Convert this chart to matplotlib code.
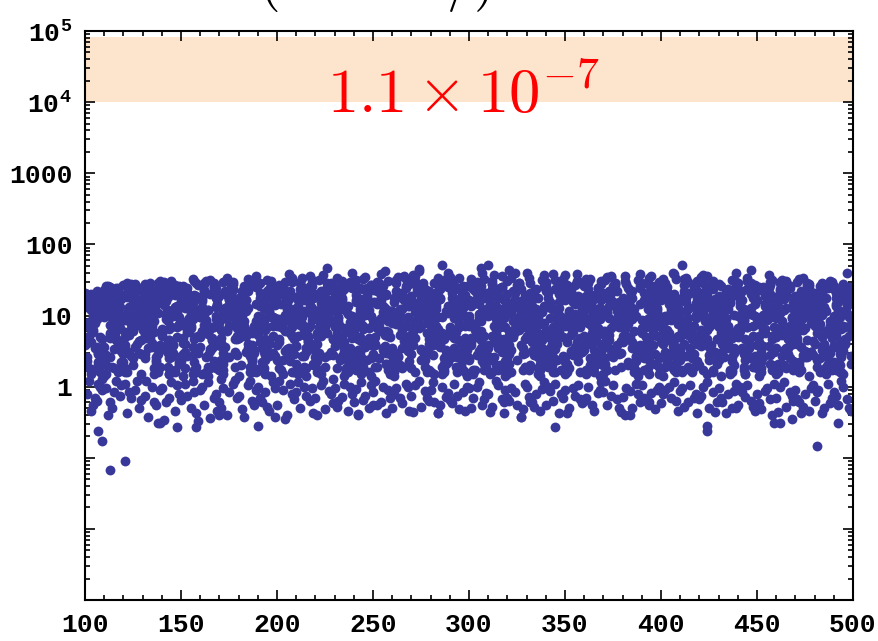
import numpy as np
import matplotlib
matplotlib.use("Agg")
import matplotlib.pyplot as plt
from matplotlib.ticker import FixedLocator, FixedFormatter, MultipleLocator, LogLocator, NullFormatter

plt.rcParams['mathtext.fontset'] = 'cm'

# dense core of the cloud, one line per 10-wide bin in x
x_core = [
    100,103,106,109,101,104,107,102,105,108, 105,101,108,102,109,104,100,107,103,106, 102,107,104,100,108,105,101,109,106,103,
    119,116,113,110,117,114,111,118,115,112, 114,110,117,113,119,111,116,112,118,115, 110,113,116,119,111,114,117,112,115,118,
    125,121,128,122,129,124,120,127,123,126, 122,127,124,120,128,125,121,129,126,123, 124,120,127,123,129,121,126,122,128,125,
    130,133,136,139,131,134,137,132,135,138, 139,136,133,130,137,134,131,138,135,132, 135,131,138,132,139,134,130,137,133,136,
    144,140,147,143,149,141,146,142,148,145, 142,147,144,140,148,145,141,149,146,143, 140,143,146,149,141,144,147,142,145,148,
    150,153,156,159,151,154,157,152,155,158, 155,151,158,152,159,154,150,157,153,156, 159,156,153,150,157,154,151,158,155,152,
    162,167,164,160,168,165,161,169,166,163, 164,160,167,163,169,161,166,162,168,165, 160,163,166,169,161,164,167,162,165,168,
    175,171,178,172,179,174,170,177,173,176, 170,173,176,179,171,174,177,172,175,178, 179,176,173,170,177,174,171,178,175,172,
    184,180,187,183,189,181,186,182,188,185, 182,187,184,180,188,185,181,189,186,183, 180,183,186,189,181,184,187,182,185,188,
    190,193,196,199,191,194,197,192,195,198, 195,191,198,192,199,194,190,197,193,196, 199,196,193,190,197,194,191,198,195,192,
    202,207,204,200,208,205,201,209,206,203, 204,200,207,203,209,201,206,202,208,205, 200,203,206,209,201,204,207,202,205,208,
    215,211,218,212,219,214,210,217,213,216, 210,213,216,219,211,214,217,212,215,218, 219,216,213,210,217,214,211,218,215,212,
    224,220,227,223,229,221,226,222,228,225, 222,227,224,220,228,225,221,229,226,223, 220,223,226,229,221,224,227,222,225,228,
    230,233,236,239,231,234,237,232,235,238, 235,231,238,232,239,234,230,237,233,236, 239,236,233,230,237,234,231,238,235,232,
    242,247,244,240,248,245,241,249,246,243, 244,240,247,243,249,241,246,242,248,245, 240,243,246,249,241,244,247,242,245,248,
    255,251,258,252,259,254,250,257,253,256, 250,253,256,259,251,254,257,252,255,258, 259,256,253,250,257,254,251,258,255,252,
    264,260,267,263,269,261,266,262,268,265, 262,267,264,260,268,265,261,269,266,263, 260,263,266,269,261,264,267,262,265,268,
    270,273,276,279,271,274,277,272,275,278, 275,271,278,272,279,274,270,277,273,276, 279,276,273,270,277,274,271,278,275,272,
    282,287,284,280,288,285,281,289,286,283, 284,280,287,283,289,281,286,282,288,285, 280,283,286,289,281,284,287,282,285,288,
    295,291,298,292,299,294,290,297,293,296, 290,293,296,299,291,294,297,292,295,298, 299,296,293,290,297,294,291,298,295,292,
    304,300,307,303,309,301,306,302,308,305, 302,307,304,300,308,305,301,309,306,303, 300,303,306,309,301,304,307,302,305,308,
    310,313,316,319,311,314,317,312,315,318, 315,311,318,312,319,314,310,317,313,316, 319,316,313,310,317,314,311,318,315,312,
    322,327,324,320,328,325,321,329,326,323, 324,320,327,323,329,321,326,322,328,325, 320,323,326,329,321,324,327,322,325,328,
    335,331,338,332,339,334,330,337,333,336, 330,333,336,339,331,334,337,332,335,338, 339,336,333,330,337,334,331,338,335,332,
    344,340,347,343,349,341,346,342,348,345, 342,347,344,340,348,345,341,349,346,343, 340,343,346,349,341,344,347,342,345,348,
    350,353,356,359,351,354,357,352,355,358, 355,351,358,352,359,354,350,357,353,356, 359,356,353,350,357,354,351,358,355,352,
    362,367,364,360,368,365,361,369,366,363, 364,360,367,363,369,361,366,362,368,365, 360,363,366,369,361,364,367,362,365,368,
    375,371,378,372,379,374,370,377,373,376, 370,373,376,379,371,374,377,372,375,378, 379,376,373,370,377,374,371,378,375,372,
    384,380,387,383,389,381,386,382,388,385, 382,387,384,380,388,385,381,389,386,383, 380,383,386,389,381,384,387,382,385,388,
    390,393,396,399,391,394,397,392,395,398, 395,391,398,392,399,394,390,397,393,396, 399,396,393,390,397,394,391,398,395,392,
    402,407,404,400,408,405,401,409,406,403, 404,400,407,403,409,401,406,402,408,405, 400,403,406,409,401,404,407,402,405,408,
    415,411,418,412,419,414,410,417,413,416, 410,413,416,419,411,414,417,412,415,418, 419,416,413,410,417,414,411,418,415,412,
    424,420,427,423,429,421,426,422,428,425, 422,427,424,420,428,425,421,429,426,423, 420,423,426,429,421,424,427,422,425,428,
    430,433,436,439,431,434,437,432,435,438, 435,431,438,432,439,434,430,437,433,436, 439,436,433,430,437,434,431,438,435,432,
    442,447,444,440,448,445,441,449,446,443, 444,440,447,443,449,441,446,442,448,445, 440,443,446,449,441,444,447,442,445,448,
    455,451,458,452,459,454,450,457,453,456, 450,453,456,459,451,454,457,452,455,458, 459,456,453,450,457,454,451,458,455,452,
    464,460,467,463,469,461,466,462,468,465, 462,467,464,460,468,465,461,469,466,463, 460,463,466,469,461,464,467,462,465,468,
    470,473,476,479,471,474,477,472,475,478, 475,471,478,472,479,474,470,477,473,476, 479,476,473,470,477,474,471,478,475,472,
    482,487,484,480,488,485,481,489,486,483, 484,480,487,483,489,481,486,482,488,485, 480,483,486,489,481,484,487,482,485,488,
    495,491,498,492,499,494,490,497,493,496, 490,493,496,499,491,494,497,492,495,498, 499,496,493,490,497,494,491,498,495,492, 500,500,
]
y_core = [
    17,4.2,9.5,2.1,13,6.3,1.7,19,3.5,11, 7.8,2.6,15,5.1,1.3,8.9,21,3.0,12,1.9, 6.8,18,10,3.9,16,13,2.3,4.6,14,1.5,
    3.2,15,5.7,23,1.6,9.1,2.8,19,7.0,12.5, 21,2.4,11.5,4.9,1.8,26,6.0,14.5,3.4,8.2, 1.4,5.3,24,8.5,2.0,16.5,3.7,10.5,20,6.6,
    9.8,1.6,4.4,20.5,13.5,2.7,27,7.4,3.1,17.5, 18,4.0,9.0,2.2,14,6.1,1.8,23,3.6,11, 7.6,2.9,16,5.4,1.5,8.7,25,3.1,12.5,2.0,
    6.5,21,10.5,3.8,28,13,2.4,4.8,17,1.6, 3.3,15.5,5.5,25,1.7,9.3,2.9,19.5,7.2,12, 22,2.5,11,5.0,1.9,29,6.2,14,3.5,8.4,
    1.5,5.1,27,8.3,2.1,16,3.8,10.8,24,6.9, 10,1.7,4.5,21,13.8,2.6,30,7.5,3.0,18, 17.5,4.3,9.7,2.2,14.2,6.4,1.6,26,3.4,11.3,
    7.7,2.7,16.5,5.2,1.4,9.0,31,3.1,12.2,1.9, 6.7,20,10.2,4.0,27,13.4,2.3,4.7,17.2,1.5, 3.3,14.8,5.8,23.5,1.7,9.2,2.9,19,7.1,12.8,
    22,2.3,11.8,5.0,1.8,32,6.1,14.6,3.5,8.1, 1.4,5.4,26,8.6,2.0,16.8,3.6,10.4,24,6.5, 9.6,1.6,4.5,20,13.2,2.8,29,7.3,3.2,17.8,
    17.5,4.1,9.4,2.1,14.2,6.2,1.7,23,3.6,11.1, 7.9,2.5,16.2,5.2,1.3,9.0,28,3.0,12.3,1.9, 6.6,21,10.1,3.8,30,13.1,2.4,4.7,17,1.5,
    3.1,15.3,5.6,26,1.6,9.2,2.7,19.4,7.1,12.6, 22,2.4,11.6,4.8,1.8,33,6.0,14.4,3.3,8.3, 1.4,5.2,27,8.4,2.0,16.4,3.8,10.6,24,6.7,
    9.9,1.6,4.3,21,13.6,2.8,31,7.3,3.2,17.3, 18.2,4.2,9.3,2.2,14.1,6.3,1.7,24,3.5,11.2, 7.7,2.7,16.1,5.3,1.4,8.8,29,3.0,12.4,1.9,
    6.9,22,10.3,3.9,34,13.2,2.3,4.6,16.9,1.5, 3.2,15.1,5.6,27,1.6,9.0,2.8,19.8,7.0,12.4, 21.5,2.4,11.4,5.0,1.8,30,6.1,14.7,3.4,8.0,
    1.4,5.2,32,8.4,2.0,16.6,3.7,10.7,25,6.6, 9.7,1.6,4.4,20.2,13.4,2.7,36,7.4,3.1,17.6, 17.6,4.2,9.5,2.1,14.0,6.2,1.7,26,3.5,11.0,
    7.8,2.6,16.0,5.1,1.3,8.9,46,3.0,12.1,1.9, 6.8,23,10.0,3.9,29,13.0,2.3,4.6,17.0,1.5, 3.2,15.0,5.7,27,1.6,9.1,2.8,19.0,7.0,12.5,
    21,2.4,11.5,4.9,1.8,31,6.0,14.5,3.4,8.2, 1.4,5.3,28,8.5,2.0,16.5,3.7,10.5,25,6.6, 9.8,1.6,4.4,20.5,13.5,2.7,34,7.4,3.1,17.5,
    17.8,4.3,9.6,2.2,14.3,6.4,1.7,27,3.6,11.2, 7.6,2.5,16.3,5.0,1.4,8.7,35,3.1,12.0,1.9, 6.7,24,10.2,3.8,32,13.3,2.4,4.7,17.3,1.6,
    3.3,15.4,5.8,30,1.7,9.2,2.9,19.2,7.1,12.7, 22.5,2.5,11.7,5.0,1.9,38,6.1,14.6,3.5,8.3, 1.5,5.4,29,8.6,2.1,16.7,3.8,10.6,26,6.7,
    9.9,1.7,4.5,21,13.7,2.8,36,7.5,3.2,17.7, 18.1,4.1,9.4,2.2,14.4,6.3,1.8,28,3.6,11.3, 7.9,2.6,16.4,5.2,1.4,9.0,33,3.0,12.3,2.0,
    6.9,24,10.4,4.0,37,13.3,2.4,4.8,17.4,1.6, 3.3,15.6,5.6,31,1.7,9.3,2.9,19.6,7.2,12.6, 22,2.5,11.6,5.0,1.9,42,6.2,14.8,3.4,8.4,
    1.5,5.3,34,8.6,2.1,16.9,3.8,10.8,27,6.8, 9.6,1.6,4.6,20.8,13.6,2.8,51,7.6,3.2,17.9, 17.9,4.3,9.6,2.2,14.3,6.4,1.7,29,3.6,11.4,
    7.9,2.6,16.2,5.2,1.4,9.0,35,3.1,12.2,2.0, 6.9,25,10.2,4.0,30,13.2,2.4,4.8,17.1,1.6, 3.3,15.2,5.8,28,1.7,9.3,2.9,19.3,7.1,12.7,
    21.8,2.5,11.6,5.0,1.9,33,6.1,14.7,3.5,8.3, 1.5,5.4,30,8.6,2.1,16.6,3.8,10.7,26,6.8, 9.9,1.7,4.5,20.6,13.6,2.8,39,7.5,3.2,17.6,
    18.0,4.3,9.7,2.2,14.4,6.4,1.8,28,3.7,11.3, 7.8,2.6,16.4,5.2,1.4,9.0,52,3.1,12.2,2.0, 6.8,24,10.3,3.9,36,13.4,2.4,4.7,17.4,1.6,
    3.3,15.5,5.8,31,1.7,9.3,2.9,19.5,7.2,12.8, 22.3,2.5,11.8,5.0,1.9,44,6.2,14.8,3.5,8.4, 1.5,5.4,29,8.7,2.1,16.8,3.8,10.7,27,6.8,
    9.8,1.7,4.5,21,13.7,2.8,40,7.5,3.2,17.8, 18.2,4.2,9.5,2.2,14.3,6.3,1.8,29,3.6,11.3, 7.9,2.6,16.3,5.2,1.4,9.1,34,3.1,12.4,2.0,
    6.9,25,10.3,4.0,33,13.3,2.4,4.8,17.4,1.6, 3.3,15.6,5.7,30,1.7,9.3,2.9,19.7,7.2,12.6, 22.1,2.5,11.6,5.0,1.9,38,6.2,14.8,3.4,8.3,
    1.5,5.3,31,8.6,2.1,16.8,3.8,10.8,27,6.8, 9.7,1.6,4.6,20.8,13.6,2.8,37,7.6,3.2,17.8, 17.9,4.3,9.6,2.2,14.3,6.4,1.7,29,3.6,11.4,
    7.9,2.6,16.2,5.2,1.4,9.0,33,3.1,12.2,2.0, 6.9,26,10.2,4.0,31,13.2,2.4,4.8,17.1,1.6, 3.3,15.2,5.8,28,1.7,9.3,2.9,19.3,7.1,12.7,
    21.8,2.5,11.6,5.0,1.9,35,6.1,14.7,3.5,8.3, 1.5,5.4,29,8.6,2.1,16.6,3.8,10.7,26,6.8, 9.9,1.7,4.5,20.6,13.6,2.8,32,7.5,3.2,17.6,
    18.0,4.3,9.7,2.2,14.4,6.4,1.8,28,3.7,11.3, 7.8,2.6,16.4,5.2,1.4,9.0,36,3.1,12.2,2.0, 6.8,24,10.3,3.9,31,13.4,2.4,4.7,17.4,1.6,
    3.3,15.5,5.8,30,1.7,9.3,2.9,19.5,7.2,12.8, 22.3,2.5,11.8,5.0,1.9,34,6.2,14.8,3.5,8.4, 1.5,5.4,28,8.7,2.1,16.8,3.8,10.7,26,6.8,
    9.8,1.7,4.5,21,13.7,2.8,33,7.5,3.2,17.8, 18.2,4.2,9.5,2.2,14.3,6.3,1.8,29,3.6,11.3, 7.9,2.6,16.3,5.2,1.4,9.1,38,3.1,12.4,2.0,
    6.9,51,10.3,4.0,31,13.3,2.4,4.8,17.4,1.6, 3.3,15.6,5.7,29,1.7,9.3,2.9,19.7,7.2,12.6, 22.1,2.5,11.6,5.0,1.9,30,6.2,14.8,3.4,8.3,
    1.5,5.3,31,8.6,2.1,16.8,3.8,10.8,27,6.8, 9.7,1.6,4.6,20.8,13.6,2.8,35,7.6,3.2,17.8, 17.9,4.3,9.6,2.2,14.3,6.4,1.7,29,3.6,11.4,
    7.9,2.6,16.2,5.2,1.4,9.0,32,3.1,12.2,2.0, 6.9,26,10.2,4.0,30,13.2,2.4,4.8,17.1,1.6, 3.3,15.2,5.8,28,1.7,9.3,2.9,19.3,7.1,12.7,
    21.8,2.5,11.6,5.0,1.9,31,6.1,14.7,3.5,8.3, 1.5,5.4,29,8.6,2.1,16.6,3.8,10.7,26,6.8, 9.9,1.7,4.5,20.6,13.6,2.8,44,7.5,3.2,17.6,
    18.0,4.3,9.7,2.2,14.4,6.4,1.8,27,3.7,11.3, 7.8,2.6,16.4,5.2,1.4,9.0,30,3.1,12.2,2.0, 6.8,24,10.3,3.9,28,13.4,2.4,4.7,17.4,1.6,
    3.3,15.5,5.8,29,1.7,9.3,2.9,19.5,7.2,12.8, 22.3,2.5,11.8,5.0,1.9,31,6.2,14.8,3.5,8.4, 1.5,5.4,27,8.7,2.1,16.8,3.8,10.7,25,6.8,
    9.8,1.7,4.5,21,13.7,2.8,28,7.5,3.2,17.8, 18.2,4.2,9.5,2.2,14.3,6.3,1.8,26,3.6,11.3, 7.9,2.6,16.3,5.2,1.4,9.1,30,3.1,12.4,2.0,
    6.9,24,10.3,4.0,27,13.3,2.4,4.8,17.4,1.6, 3.3,15.6,5.7,26,1.7,9.3,2.9,19.7,7.2,12.6, 21,2.5,11.6,5.0,1.9,29,6.2,14.8,3.4,8.3,
    1.5,5.3,25,8.6,2.1,16.8,3.8,10.8,22,6.8, 9.7,1.6,4.6,20.8,13.6,2.8,40,7.6,3.2,17.8, 17.9,4.3,9.6,2.2,14.3,6.4,1.7,24,3.6,11.4, 6.0,15,
]

# second pass over the core, where the cloud is densest
x_core2 = [
    109,106,103,100,107,104,101,108,105,102, 104,100,107,103,109,101,106,102,108,105, 101,105,109,103,107,100,104,108,102,106,
    116,112,118,114,110,115,119,111,117,113, 119,116,113,110,117,114,111,118,115,112, 114,110,117,113,119,111,116,112,118,115,
    121,125,129,123,127,120,124,128,122,126, 126,122,128,124,120,125,129,121,127,123, 129,126,123,120,127,124,121,128,125,122,
    134,130,137,133,139,131,136,132,138,135, 131,135,139,133,137,130,134,138,132,136, 136,132,138,134,130,135,139,131,137,133,
    149,146,143,140,147,144,141,148,145,142, 144,140,147,143,149,141,146,142,148,145, 141,145,149,143,147,140,144,148,142,146,
    159,156,153,150,157,154,151,158,155,152, 154,150,157,153,159,151,156,152,158,155, 151,155,159,153,157,150,154,158,152,156,
    166,162,168,164,160,165,169,161,167,163, 169,166,163,160,167,164,161,168,165,162, 164,160,167,163,169,161,166,162,168,165,
    171,175,179,173,177,170,174,178,172,176, 176,172,178,174,170,175,179,171,177,173, 179,176,173,170,177,174,171,178,175,172,
    184,180,187,183,189,181,186,182,188,185, 181,185,189,183,187,180,184,188,182,186, 186,182,188,184,180,185,189,181,187,183,
    199,196,193,190,197,194,191,198,195,192, 194,190,197,193,199,191,196,192,198,195, 191,195,199,193,197,190,194,198,192,196,
    209,206,203,200,207,204,201,208,205,202, 204,200,207,203,209,201,206,202,208,205, 201,205,209,203,207,200,204,208,202,206,
    216,212,218,214,210,215,219,211,217,213, 219,216,213,210,217,214,211,218,215,212, 214,210,217,213,219,211,216,212,218,215,
    221,225,229,223,227,220,224,228,222,226, 226,222,228,224,220,225,229,221,227,223, 229,226,223,220,227,224,221,228,225,222,
    234,230,237,233,239,231,236,232,238,235, 231,235,239,233,237,230,234,238,232,236, 236,232,238,234,230,235,239,231,237,233,
    249,246,243,240,247,244,241,248,245,242, 244,240,247,243,249,241,246,242,248,245, 241,245,249,243,247,240,244,248,242,246,
    259,256,253,250,257,254,251,258,255,252, 254,250,257,253,259,251,256,252,258,255, 251,255,259,253,257,250,254,258,252,256,
    266,262,268,264,260,265,269,261,267,263, 269,266,263,260,267,264,261,268,265,262, 264,260,267,263,269,261,266,262,268,265,
    271,275,279,273,277,270,274,278,272,276, 276,272,278,274,270,275,279,271,277,273, 279,276,273,270,277,274,271,278,275,272,
    284,280,287,283,289,281,286,282,288,285, 281,285,289,283,287,280,284,288,282,286, 286,282,288,284,280,285,289,281,287,283,
    299,296,293,290,297,294,291,298,295,292, 294,290,297,293,299,291,296,292,298,295, 291,295,299,293,297,290,294,298,292,296,
    309,306,303,300,307,304,301,308,305,302, 304,300,307,303,309,301,306,302,308,305, 301,305,309,303,307,300,304,308,302,306,
    316,312,318,314,310,315,319,311,317,313, 319,316,313,310,317,314,311,318,315,312, 314,310,317,313,319,311,316,312,318,315,
    321,325,329,323,327,320,324,328,322,326, 326,322,328,324,320,325,329,321,327,323, 329,326,323,320,327,324,321,328,325,322,
    334,330,337,333,339,331,336,332,338,335, 331,335,339,333,337,330,334,338,332,336, 336,332,338,334,330,335,339,331,337,333,
    349,346,343,340,347,344,341,348,345,342, 344,340,347,343,349,341,346,342,348,345, 341,345,349,343,347,340,344,348,342,346,
    359,356,353,350,357,354,351,358,355,352, 354,350,357,353,359,351,356,352,358,355, 351,355,359,353,357,350,354,358,352,356,
    366,362,368,364,360,365,369,361,367,363, 369,366,363,360,367,364,361,368,365,362, 364,360,367,363,369,361,366,362,368,365,
    371,375,379,373,377,370,374,378,372,376, 376,372,378,374,370,375,379,371,377,373, 379,376,373,370,377,374,371,378,375,372,
    384,380,387,383,389,381,386,382,388,385, 381,385,389,383,387,380,384,388,382,386, 386,382,388,384,380,385,389,381,387,383,
    399,396,393,390,397,394,391,398,395,392, 394,390,397,393,399,391,396,392,398,395, 391,395,399,393,397,390,394,398,392,396,
    409,406,403,400,407,404,401,408,405,402, 404,400,407,403,409,401,406,402,408,405, 401,405,409,403,407,400,404,408,402,406,
    416,412,418,414,410,415,419,411,417,413, 419,416,413,410,417,414,411,418,415,412, 414,410,417,413,419,411,416,412,418,415,
    421,425,429,423,427,420,424,428,422,426, 426,422,428,424,420,425,429,421,427,423, 429,426,423,420,427,424,421,428,425,422,
    434,430,437,433,439,431,436,432,438,435, 431,435,439,433,437,430,434,438,432,436, 436,432,438,434,430,435,439,431,437,433,
    449,446,443,440,447,444,441,448,445,442, 444,440,447,443,449,441,446,442,448,445, 441,445,449,443,447,440,444,448,442,446,
    459,456,453,450,457,454,451,458,455,452, 454,450,457,453,459,451,456,452,458,455, 451,455,459,453,457,450,454,458,452,456,
    466,462,468,464,460,465,469,461,467,463, 469,466,463,460,467,464,461,468,465,462, 464,460,467,463,469,461,466,462,468,465,
    471,475,479,473,477,470,474,478,472,476, 476,472,478,474,470,475,479,471,477,473, 479,476,473,470,477,474,471,478,475,472,
    484,480,487,483,489,481,486,482,488,485, 481,485,489,483,487,480,484,488,482,486, 486,482,488,484,480,485,489,481,487,483,
    499,496,493,490,497,494,491,498,495,492, 494,490,497,493,499,491,496,492,498,495, 491,495,499,493,497,490,494,498,492,496,
]
y_core2 = [
    12,3.6,20,7.4,2.2,18,4.9,21,9.0,1.8, 5.9,15.8,2.9,19,11.2,4.1,22,8.0,1.6,13.9, 20,10.9,3.0,6.4,17,2.5,14.8,5.0,19.5,8.8,
    4.5,23,13.0,1.9,9.4,20.1,3.9,16.2,6.9,25, 17.0,7.0,2.6,11.9,24,5.5,1.5,9.9,3.4,21, 12,3.6,22,7.4,2.2,18,4.9,26,9.0,1.8,
    5.9,15.8,2.9,21.5,11.2,4.1,28,8.0,1.6,13.9, 26,10.9,3.0,6.4,19.2,2.5,14.8,5.0,22.7,8.8, 4.5,27.5,13.0,1.9,9.4,20.1,3.9,16.2,6.9,29,
    17.0,7.0,2.6,11.9,25.3,5.5,1.5,9.9,3.4,23.0, 12,3.6,24,7.4,2.2,18,4.9,29,9.0,1.8, 5.9,15.8,2.9,21.5,11.2,4.1,31,8.0,1.6,13.9,
    26,10.9,3.0,6.4,19.2,2.5,14.8,5.0,22.7,8.8, 4.5,27.5,13.0,1.9,9.4,20.1,3.9,16.2,6.9,31, 17.0,7.0,2.6,11.9,25.3,5.5,1.5,9.9,3.4,23.0,
    12,3.6,24,7.4,2.2,18,4.9,29,9.0,1.8, 5.9,15.8,2.9,21.5,11.2,4.1,33,8.0,1.6,13.9, 26,10.9,3.0,6.4,19.2,2.5,14.8,5.0,22.7,8.8,
    4.5,27.5,13.0,1.9,9.4,20.1,3.9,16.2,6.9,31, 17.0,7.0,2.6,11.9,25.3,5.5,1.5,9.9,3.4,23.0, 12,3.6,24,7.4,2.2,18,4.9,29,9.0,1.8,
    6.2,16.5,2.8,22,11.6,4.3,34,7.7,1.7,13.5, 25,11.3,3.1,6.1,18.7,2.6,15.2,4.8,23.5,9.1, 4.7,28,12.6,2.0,9.7,19.6,3.7,16.8,7.2,30,
    16.6,7.3,2.5,12.3,26,5.3,1.6,10.2,3.3,22.4, 12.4,3.5,25,7.1,2.3,17.5,5.1,30,8.7,1.9, 6.1,15.3,3.0,22.2,10.8,4.0,36,8.3,1.6,14.4,
    25.4,11.2,3.1,6.2,19.8,2.4,15.3,5.2,22,9.2, 4.6,27,13.5,1.8,9.1,20.7,4.0,15.7,7.1,32, 17.6,6.8,2.7,12.2,26,5.7,1.5,9.6,3.5,23.6,
    12.5,3.5,25,7.2,2.3,18.6,4.7,30,9.3,1.7, 6.1,15.3,3.0,22.3,10.8,4.2,38,8.3,1.6,14.3, 27,10.6,2.9,6.6,19.8,2.4,15.2,5.2,23.4,8.5,
    4.6,28.4,12.6,1.9,9.7,20.8,3.8,16.7,7.1,34, 17.5,6.8,2.7,12.3,26,5.3,1.5,10.2,3.5,23.7, 11.6,3.7,25,7.6,2.1,18.5,5.1,30,8.7,1.8,
    5.7,16.3,2.8,22,11.5,4.0,37,8.2,1.7,13.5, 25.2,11.2,3.1,6.2,19.8,2.6,14.4,5.2,23.4,9.1, 4.6,28.3,12.6,2.0,9.1,20.7,4.0,15.7,7.1,32,
    17.5,6.8,2.7,12.3,26.1,5.7,1.6,9.6,3.5,23.7, 12.4,3.5,24.7,7.2,2.3,18.5,4.8,30,9.3,1.8, 5.8,16.3,2.8,22.1,11.6,4.2,40,7.8,1.6,14.3,
    26.8,10.6,3.1,6.6,18.6,2.6,15.3,4.9,23.4,8.6, 4.4,28.3,12.6,2.0,9.7,19.6,4.0,16.7,6.7,33, 16.5,7.2,2.5,12.3,24.5,5.7,1.5,10.2,3.3,23.7,
    11.7,3.7,24.7,7.6,2.1,18.5,5.0,31,8.8,1.9, 6.1,15.3,3.0,22.1,11.6,4.0,42,8.2,1.7,13.5, 27,11.2,2.9,6.6,19.8,2.6,14.4,5.1,22,9.1,
    4.4,28.3,13.4,2.0,9.1,20.7,4.0,15.7,7.1,35, 17.5,7.2,2.7,11.5,26.1,5.3,1.6,9.6,3.5,22.3, 12.4,3.5,24.7,7.6,2.3,17.5,5.0,32,9.3,1.8,
    6.1,15.3,3.0,22.1,11.6,4.2,45,7.8,1.6,14.3, 25.2,11.2,3.1,6.6,18.6,2.4,15.3,5.2,23.4,8.6, 4.6,28.3,13.4,1.8,9.7,20.7,3.8,16.7,7.1,36,
    16.5,7.2,2.5,12.3,26.1,5.7,1.5,10.2,3.3,23.7, 12.4,3.7,25,7.2,2.1,18.6,5.1,33,8.7,1.9, 5.7,16.3,2.8,22,11.5,4.0,40,8.3,1.6,13.5,
    26,11.3,3.1,6.2,19.8,2.6,14.4,4.8,23.5,9.2, 4.7,27,12.6,1.9,9.1,20.8,4.0,16.8,7.1,34, 17.6,6.8,2.7,11.6,26,5.3,1.6,9.7,3.5,22.4,
    12.3,3.5,25,7.2,2.3,17.5,4.8,33,9.3,1.7, 6.2,16.5,2.8,22.3,11.3,4.3,46,7.7,1.7,14.4, 25.4,10.6,3.1,6.2,19.6,2.4,15.2,5.2,23.6,8.5,
    4.6,28,12.6,2.0,9.7,19.6,3.7,16.8,7.2,37, 17.6,6.8,2.6,12.2,25.3,5.7,1.5,9.6,3.5,23.6, 12.5,3.5,25,7.1,2.3,18.6,4.7,31,9.3,1.7,
    6.1,15.3,3.0,22.2,10.8,4.0,40,8.3,1.6,14.4, 27,10.6,2.9,6.6,19.8,2.4,15.2,5.2,23.4,8.5, 4.6,28.4,12.6,1.9,9.7,20.8,3.8,16.7,7.1,34,
    17.5,6.8,2.7,12.3,26,5.3,1.5,10.2,3.5,23.7, 11.6,3.7,25,7.6,2.1,18.5,5.1,32,8.7,1.8, 5.7,16.3,2.8,22,11.5,4.0,37,8.2,1.7,13.5,
    25.2,11.2,3.1,6.2,19.8,2.6,14.4,5.2,23.4,9.1, 4.6,28.3,12.6,2.0,9.1,20.7,4.0,15.7,7.1,32, 17.5,6.8,2.7,12.3,26.1,5.7,1.6,9.6,3.5,23.7,
    12.4,3.5,24.7,7.2,2.3,18.5,4.8,30,9.3,1.8, 5.8,16.3,2.8,22.1,11.6,4.2,38,7.8,1.6,14.3, 26.8,10.6,3.1,6.6,18.6,2.6,15.3,4.9,23.4,8.6,
    4.4,28.3,12.6,2.0,9.7,19.6,4.0,16.7,6.7,33, 16.5,7.2,2.5,12.3,24.5,5.7,1.5,10.2,3.3,23.7, 11.7,3.7,24.7,7.6,2.1,18.5,5.0,31,8.8,1.9,
    6.1,15.3,3.0,22.1,11.6,4.0,36,8.2,1.7,13.5, 27,11.2,2.9,6.6,19.8,2.6,14.4,5.1,22,9.1, 4.4,28.3,13.4,2.0,9.1,20.7,4.0,15.7,7.1,35,
    17.5,7.2,2.7,11.5,26.1,5.3,1.6,9.6,3.5,22.3, 12.4,3.5,24.7,7.6,2.3,17.5,5.0,32,9.3,1.8, 6.1,15.3,3.0,22.1,11.6,4.2,38,7.8,1.6,14.3,
    25.2,11.2,3.1,6.6,18.6,2.4,15.3,5.2,23.4,8.6, 4.6,28.3,13.4,1.8,9.7,20.7,3.8,16.7,7.1,36, 16.5,7.2,2.5,12.3,26.1,5.7,1.5,10.2,3.3,23.7,
    12.4,3.7,25,7.2,2.1,18.6,5.1,33,8.7,1.9, 5.7,16.3,2.8,22,11.5,4.0,40,8.3,1.6,13.5, 26,11.3,3.1,6.2,19.8,2.6,14.4,4.8,23.5,9.2,
    4.7,27,12.6,1.9,9.1,20.8,4.0,16.8,7.1,34, 17.6,6.8,2.7,11.6,26,5.3,1.6,9.7,3.5,22.4, 12.3,3.5,25,7.2,2.3,17.5,4.8,33,9.3,1.7,
    6.2,16.5,2.8,22.3,11.3,4.3,36,7.7,1.7,14.4, 25.4,10.6,3.1,6.2,19.6,2.4,15.2,5.2,23.6,8.5, 4.6,28,12.6,2.0,9.7,19.6,3.7,16.8,7.2,37,
    17.6,6.8,2.6,12.2,25.3,5.7,1.5,9.6,3.5,23.6, 12.5,3.5,25,7.1,2.3,18.6,4.7,31,9.3,1.7, 6.1,15.3,3.0,22.2,10.8,4.0,40,8.3,1.6,14.4,
    27,10.6,2.9,6.6,19.8,2.4,15.2,5.2,23.4,8.5, 4.6,28.4,12.6,1.9,9.7,20.8,3.8,16.7,7.1,34, 17.5,6.8,2.7,12.3,26,5.3,1.5,10.2,3.5,23.7,
    11.6,3.7,25,7.6,2.1,18.5,5.1,32,8.7,1.8, 5.7,16.3,2.8,22,11.5,4.0,37,8.2,1.7,13.5, 25.2,11.2,3.1,6.2,19.8,2.6,14.4,5.2,23.4,9.1,
    4.6,28.3,12.6,2.0,9.1,20.7,4.0,15.7,7.1,32, 17.5,6.8,2.7,12.3,26.1,5.7,1.6,9.6,3.5,23.7, 12.4,3.5,24.7,7.2,2.3,18.5,4.8,30,9.3,1.8,
    5.8,16.3,2.8,22.1,11.6,4.2,34,7.8,1.6,14.3, 26.8,10.6,3.1,6.6,18.6,2.6,15.3,4.9,23.4,8.6, 4.4,28.3,12.6,2.0,9.7,19.6,4.0,16.7,6.7,33,
    16.5,7.2,2.5,12.3,24.5,5.7,1.5,10.2,3.3,23.7, 11.7,3.7,24.7,7.6,2.1,18.5,5.0,31,8.8,1.9, 6.1,15.3,3.0,22.1,11.6,4.0,30,8.2,1.7,13.5,
    24,11.2,2.9,6.6,19.8,2.6,14.4,5.1,22,9.1, 4.4,26,13.4,2.0,9.1,20.7,4.0,15.7,7.1,28, 17.5,7.2,2.7,11.5,24,5.3,1.6,9.6,3.5,22.3,
]

# thinner layer just under 1
x_low = [
    101,104,107,102,105,109,103,108,106, 111,113,116,118,112,115,119,114, 121,124,126,128,122,127,129,123,
    131,133,135,137,139,132,136,138, 140,142,145,147,149,141,144,148, 150,152,155,157,159,153,156,158,
    160,162,164,167,169,161,165,168, 170,172,174,177,179,171,175,178, 180,182,185,187,189,183,186,188,
    190,192,194,196,198,191,195,199, 200,203,205,207,209,201,204,208, 210,212,214,217,219,211,215,218,
    220,223,225,227,229,221,224,228, 230,232,235,237,239,231,234,238, 240,242,244,246,248,241,245,249,
    250,252,255,257,259,251,254,258, 260,262,264,267,269,261,265,268, 270,272,275,277,279,271,274,278,
    280,282,284,286,288,281,285,289, 290,292,295,297,299,291,294,298, 300,302,305,307,309,301,304,308,
    310,312,315,317,319,311,314,318, 320,322,325,327,329,321,324,328, 330,332,335,337,339,331,334,338,
    340,342,345,347,349,341,344,348, 350,352,355,357,359,351,354,358, 360,362,365,367,369,361,364,368,
    370,372,375,377,379,371,374,378, 380,382,385,387,389,381,384,388, 390,392,395,397,399,391,394,398,
    400,402,405,407,409,401,404,408, 410,412,415,417,419,411,414,418, 420,422,425,427,429,421,424,428,
    430,432,435,437,439,431,434,438, 440,442,445,447,449,441,444,448, 450,452,455,457,459,451,454,458,
    460,462,465,467,469,461,464,468, 470,472,475,477,479,471,474,478, 480,482,485,487,489,481,484,488,
    490,492,495,497,499,491,494,498,
]
y_low = [
    0.8,0.55,1.1,1.2,0.7,0.9,0.45,1.0,0.62, 0.95,0.6,1.2,0.75,0.4,0.85,1.05,0.5, 1.1,0.7,0.9,0.5,0.42,1.2,0.65,0.85,
    0.75,0.38,1.0,0.55,0.9,1.2,0.6,0.31, 0.95,0.6,1.15,0.45,0.8,0.34,0.7,1.05, 0.65,1.1,0.5,0.85,0.33,0.75,1.2,0.42,
    0.9,0.55,1.15,0.7,0.45,1.0,0.36,0.8, 0.6,0.95,0.4,1.1,0.7,0.5,0.85,1.25, 0.75,0.48,1.05,0.62,0.9,0.38,1.2,0.55,
    1.0,0.6,0.85,0.45,1.15,0.7,0.52,0.95, 0.55,0.9,0.4,1.1,0.68,1.2,0.35,0.8, 0.85,0.5,1.0,0.62,0.42,1.15,0.75,0.95,
    0.7,1.05,0.48,0.88,0.58,0.4,1.2,0.78, 0.95,0.62,1.1,0.45,0.8,0.52,0.72,1.0, 0.6,0.41,1.15,0.75,0.5,0.92,0.65,1.05,
    0.85,0.55,1.0,0.42,0.7,1.2,0.6,0.9, 0.5,0.95,0.7,1.1,0.45,0.8,0.58,1.0, 0.75,1.05,0.52,0.88,0.62,0.44,1.2,0.7,
    0.9,0.6,0.43,1.0,0.72,1.15,0.55,0.82, 0.65,1.1,0.48,0.85,1.0,0.58,0.75,0.45, 0.95,0.7,1.15,0.55,0.82,0.5,1.0,0.66,
    0.8,0.52,1.05,0.68,0.9,0.44,1.2,0.6, 0.7,0.95,0.55,0.37,1.1,0.62,0.85,0.48, 1.0,0.6,0.8,0.45,1.15,0.72,0.52,0.92,
    0.55,0.88,1.1,0.42,0.7,1.0,0.62,0.8, 0.9,0.5,0.75,1.05,0.58,0.42,0.95,0.68, 0.62,1.0,0.45,0.82,1.15,0.7,0.55,0.9,
    0.85,0.55,1.05,0.66,0.44,1.2,0.75,0.5, 0.72,0.95,0.5,1.1,0.6,0.4,0.88,0.78, 1.05,0.62,0.82,0.48,1.0,0.7,0.55,0.9,
    0.58,0.9,0.7,1.15,0.45,0.8,1.0,0.62, 0.88,0.52,1.05,0.7,0.42,0.95,0.6,0.78, 0.66,1.0,0.5,0.85,0.6,0.75,1.15,0.44,
    0.95,0.6,0.8,0.5,1.1,0.7,0.42,0.88, 0.55,0.85,1.05,0.62,0.45,1.0,0.72,0.52, 0.8,0.48,0.95,0.66,1.1,0.58,0.88,0.4,
    0.7,1.0,0.52,0.85,0.62,0.44,1.15,0.75, 0.9,0.6,0.78,0.45,1.05,0.68,0.52,0.95, 0.62,0.9,0.5,1.1,0.7,0.85,0.42,0.58,
    0.85,0.55,1.0,0.66,0.45,0.75,1.2,0.5,
]

# isolated points far below the cloud
x_out = [113, 121, 109, 107, 139, 148, 158, 170, 190, 199, 242, 250, 284, 318, 327, 333, 345,
         384, 394, 424, 424, 439, 459, 462, 468, 473, 481, 492]
y_out = [0.068, 0.089, 0.17, 0.235, 0.31, 0.275, 0.27, 0.4, 0.28, 0.37, 0.4, 0.56, 0.43, 0.43, 0.37, 0.6, 0.27,
         0.4, 0.6, 0.24, 0.28, 0.5, 0.31, 0.31, 0.35, 0.43, 0.144, 0.31]

band_lo, band_hi = 1.0e4, 8.3e4
y_ticks = [1e-3, 1e-2, 1e-1, 1, 10, 100, 1000, 1e4, 1e5]
y_labels = ['', '', '', '1', '10', '100', '1000',
            r'10$^{\mathregular{4}}$', r'10$^{\mathregular{5}}$']
x_ticks = [100, 150, 200, 250, 300, 350, 400, 450, 500]

assert len(x_core) == len(y_core) and len(x_core2) == len(y_core2)
assert len(x_low) == len(y_low) and len(x_out) == len(y_out)

xs = np.array(x_core + x_core2 + x_low + x_out, dtype=float)
ys = np.array(y_core + y_core2 + y_low + y_out, dtype=float)

fig = plt.figure(figsize=(8.79, 6.41), dpi=100)
ax = fig.add_axes([85/879, 41/641, 768/879, 569/641])

ax.axhspan(band_lo, band_hi, color='#fde4cc', lw=0, zorder=0)
ax.scatter(xs, ys, s=50, color='#38389a', lw=0, zorder=2)

ax.set_yscale('log')
ax.set_xlim(100, 500)
ax.set_ylim(1e-3, 1e5)

ax.yaxis.set_major_locator(FixedLocator(y_ticks))
ax.yaxis.set_major_formatter(FixedFormatter(y_labels))
ax.yaxis.set_minor_locator(LogLocator(base=10, subs=np.arange(2, 10), numticks=20))
ax.yaxis.set_minor_formatter(NullFormatter())
ax.xaxis.set_major_locator(FixedLocator(x_ticks))
ax.xaxis.set_minor_locator(MultipleLocator(10))

ax.tick_params(which='both', direction='in', top=True, right=True, width=1.2)
ax.tick_params(which='major', length=7, pad=9)
ax.tick_params(which='minor', length=3.5)
for lab in ax.get_xticklabels() + ax.get_yticklabels():
    lab.set_family(['Liberation Mono', 'DejaVu Sans Mono'])
    lab.set_fontweight('bold')
    lab.set_fontsize(19)
for sp in ax.spines.values():
    sp.set_linewidth(1.5)

ax.text(226, 7.1e3, r'$1.1\times10^{-7}$', color='red', fontsize=45,
        ha='left', va='baseline', zorder=3)

# top of the cropped title
fig.text(258/879, 1 - 14/641, r'$($', fontsize=40, va='bottom')
fig.text(446/879, 1 - 14/641, r'$/)$', fontsize=40, va='bottom')

fig.savefig('out.png', dpi=100)
